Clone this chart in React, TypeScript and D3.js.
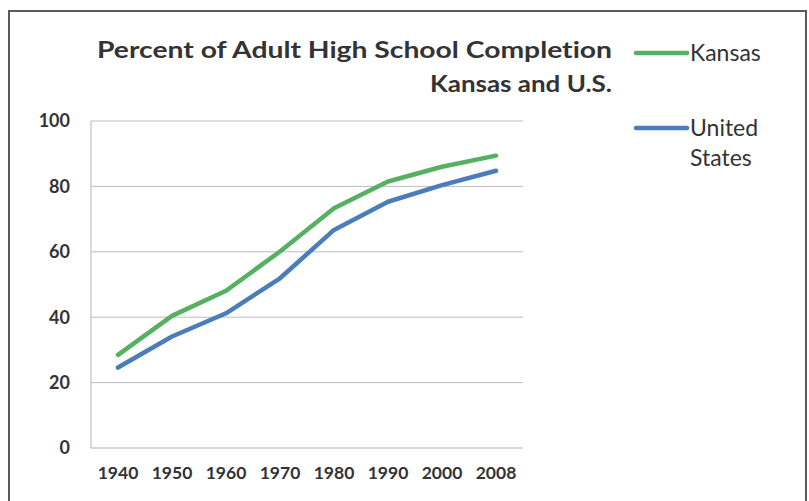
import React, { useRef, useEffect } from 'react';
import * as d3 from 'd3';

const years = ['1940', '1950', '1960', '1970', '1980', '1990', '2000', '2008'];
const kansas = [28.5, 40.4, 48.1, 60.1, 73.3, 81.5, 86.0, 89.4];
const unitedStates = [24.6, 34.1, 41.2, 51.9, 66.7, 75.3, 80.4, 84.8];
const yTicks = [0, 20, 40, 60, 80, 100];

const seriesNames = ['Kansas', 'United States'];
const seriesColors = ['#55b061', '#4a7dba'];

const App: React.FC = () => {
  const svgRef = useRef<SVGSVGElement>(null);
  const width = 809;
  const height = 501;

  useEffect(() => {
    if (!svgRef.current) return;
    const svg = d3.select(svgRef.current);
    svg.selectAll('*').remove();

    const margin = { top: 121, right: 286, bottom: 53, left: 91 };
    const innerWidth = width - margin.left - margin.right;
    const innerHeight = height - margin.top - margin.bottom;

    // frame
    svg
      .append('rect')
      .attr('x', 9)
      .attr('y', 11)
      .attr('width', 797)
      .attr('height', 500)
      .attr('fill', 'white')
      .attr('stroke', '#5a5a5a')
      .attr('stroke-width', 2);

    const x = d3.scalePoint().domain(years).range([0, innerWidth]).padding(0.5);
    const y = d3.scaleLinear().domain([0, 100]).range([innerHeight, 0]);

    const g = svg.append('g').attr('transform', `translate(${margin.left},${margin.top})`);

    // gridlines
    g.selectAll('.grid')
      .data(yTicks)
      .enter()
      .append('line')
      .attr('x1', 0)
      .attr('x2', innerWidth)
      .attr('y1', (d) => y(d))
      .attr('y2', (d) => y(d))
      .attr('stroke', (d) => (d === 0 ? '#a9b3b8' : '#bdbdbd'))
      .attr('stroke-width', 1);

    g.append('line')
      .attr('x1', 0)
      .attr('x2', 0)
      .attr('y1', 0)
      .attr('y2', innerHeight)
      .attr('stroke', '#b5b5b5');

    // y labels
    g.selectAll('.ylab')
      .data(yTicks)
      .enter()
      .append('text')
      .attr('x', -21)
      .attr('y', (d) => y(d))
      .attr('dy', '0.35em')
      .attr('text-anchor', 'end')
      .attr('font-family', 'Lato, sans-serif')
      .attr('font-weight', 'bold')
      .attr('font-size', 18)
      .attr('fill', '#333')
      .text((d) => d);

    // x labels
    g.selectAll('.xlab')
      .data(years)
      .enter()
      .append('text')
      .attr('x', (d) => x(d) as number)
      .attr('y', innerHeight + 31)
      .attr('text-anchor', 'middle')
      .attr('font-family', 'Lato, sans-serif')
      .attr('font-weight', 'bold')
      .attr('font-size', 17.5)
      .attr('fill', '#333')
      .text((d) => d);

    const line = d3
      .line<number>()
      .x((_, i) => x(years[i]) as number)
      .y((d) => y(d));

    [kansas, unitedStates].forEach((vals, i) => {
      g.append('path')
        .datum(vals)
        .attr('d', line)
        .attr('fill', 'none')
        .attr('stroke', seriesColors[i])
        .attr('stroke-width', 4.5)
        .attr('stroke-linejoin', 'round')
        .attr('stroke-linecap', 'round');
    });

    // title
    svg
      .append('text')
      .attr('x', 97)
      .attr('y', 58)
      .attr('font-family', 'Lato, sans-serif')
      .attr('font-weight', 'bold')
      .attr('font-size', 23)
      .attr('fill', '#333')
      .style('font-variant-ligatures', 'none')
      .attr('textLength', 515)
      .attr('lengthAdjust', 'spacingAndGlyphs')
      .text('Percent of Adult High School Completion');

    svg
      .append('text')
      .attr('x', 430)
      .attr('y', 92)
      .attr('font-family', 'Lato, sans-serif')
      .attr('font-weight', 'bold')
      .attr('font-size', 22)
      .attr('fill', '#333')
      .attr('textLength', 182)
      .attr('lengthAdjust', 'spacingAndGlyphs')
      .text('Kansas and U.S.');

    // legend
    const legendY = [53, 128];
    seriesNames.forEach((name, i) => {
      svg
        .append('line')
        .attr('x1', 636)
        .attr('x2', 687)
        .attr('y1', legendY[i])
        .attr('y2', legendY[i])
        .attr('stroke', seriesColors[i])
        .attr('stroke-width', 4.5)
        .attr('stroke-linecap', 'round');
      const words = name === 'United States' ? ['United', 'States'] : [name];
      words.forEach((w, j) => {
        svg
          .append('text')
          .attr('x', 690)
          .attr('y', legendY[i] + j * 30)
          .attr('dy', '0.35em')
          .attr('font-family', 'Lato, sans-serif')
          .attr('font-size', 23)
          .attr('fill', '#333')
          .text(w);
      });
    });
  }, []);

  return (
    <svg
      ref={svgRef}
      width={width}
      height={height}
      style={{ position: 'absolute', left: 0, top: 0, background: 'white' }}
    />
  );
};

export default App;
